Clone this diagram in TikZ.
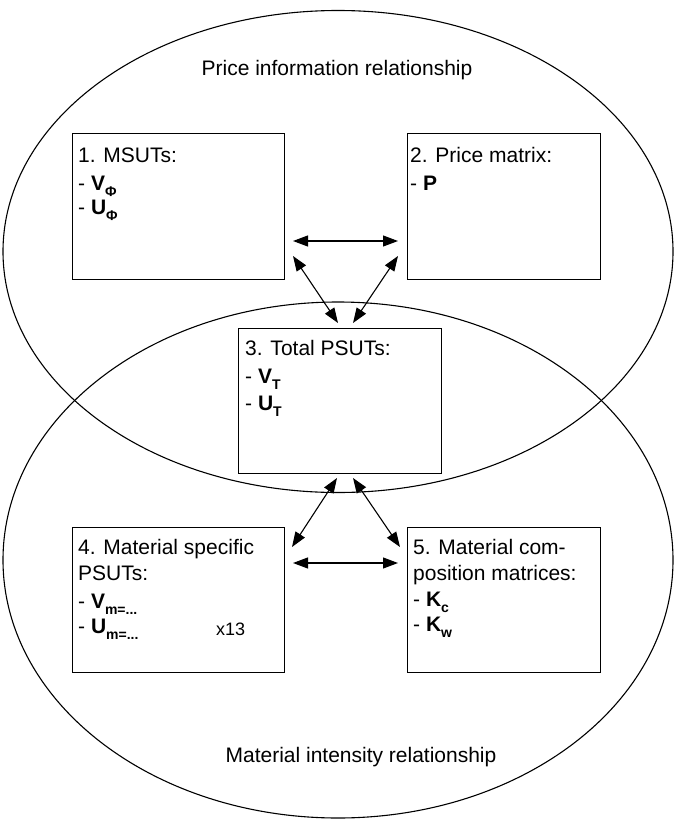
\documentclass[tikz,border=0pt]{standalone}
\usepackage{fontspec}
\setmainfont{Liberation Sans}
\usetikzlibrary{arrows.meta,shapes.geometric}
\newcommand\lowidx[1]{\raisebox{-6pt}{\fontsize{14}{14}\selectfont\bfseries #1}}
\begin{document}
\begin{tikzpicture}[x=1pt,y=-1pt,
  ring/.style={draw, ellipse, line width=1.1pt, inner sep=0pt},
  box/.style={draw, line width=1pt, anchor=north west, inner sep=0pt},
  txt/.style={anchor=base west, inner sep=0pt, font=\fontsize{21}{25}\selectfont},
  lbl/.style={inner sep=0pt, font=\fontsize{21}{25}\selectfont},
  dbl/.style={line width=1.1pt, {Triangle[length=15pt,width=11pt]}-{Triangle[length=15pt,width=11pt]}}]
\useasboundingbox (0,0) rectangle (675,819);

% the two overlapping relationship ellipses
\node[ring, minimum width=670pt, minimum height=482pt] (price) at (338,251.5) {};
\node[ring, minimum width=670pt, minimum height=516pt] (material) at (338,560) {};
\node[lbl] (pricelbl) at (337,70) {Price information relationship};
\node[lbl] (matlbl) at (361,757) {Material intensity relationship};

% boxes
\node[box, minimum width=212pt, minimum height=146pt] (msut) at (72,133) {};
\node[box, minimum width=193pt, minimum height=146pt] (pmat) at (407,133) {};
\node[box, minimum width=203pt, minimum height=145pt] (tpsut) at (238,328) {};
\node[box, minimum width=212pt, minimum height=145pt] (mpsut) at (72,527) {};
\node[box, minimum width=193pt, minimum height=145pt] (kmat) at (407,527) {};

% box contents
\node[txt] (t1a) at (78,162) {1. MSUTs:};
\node[txt] (t1b) at (78,190) {- \textbf{V}\lowidx{Φ}};
\node[txt] (t1c) at (78,214) {- \textbf{U}\lowidx{Φ}};

\node[txt] (t2a) at (410,162) {2. Price matrix:};
\node[txt] (t2b) at (410,190) {- \textbf{P}};

\node[txt] (t3a) at (245,355) {3. Total PSUTs:};
\node[txt] (t3b) at (245,383) {- \textbf{V}\lowidx{T}};
\node[txt] (t3c) at (245,410) {- \textbf{U}\lowidx{T}};

\node[txt] (t4a) at (78,554) {4. Material specific};
\node[txt] (t4b) at (78,580) {PSUTs:};
\node[txt] (t4c) at (78,608) {- \textbf{V}\lowidx{m=...}};
\node[txt] (t4d) at (78,633) {- \textbf{U}\lowidx{m=...}};
\node[txt, font=\fontsize{18}{22}\selectfont] (t4e) at (216,635) {x13};

\node[txt] (t5a) at (413,554) {5. Material com-};
\node[txt] (t5b) at (413,580) {position matrices:};
\node[txt] (t5c) at (413,606) {- \textbf{K}\lowidx{c}};
\node[txt] (t5d) at (413,631) {- \textbf{K}\lowidx{w}};

% arrow end points
\coordinate (h1l) at (293,241);
\coordinate (h1r) at (398,241);
\coordinate (d1a) at (293,256);
\coordinate (d1b) at (338,323);
\coordinate (d2a) at (398,256);
\coordinate (d2b) at (353,323);
\coordinate (d3a) at (337,478);
\coordinate (d3b) at (292,547);
\coordinate (d4a) at (353,478);
\coordinate (d4b) at (400,547);
\coordinate (h2l) at (293,563);
\coordinate (h2r) at (398,563);

\draw[dbl] (h1l) -- (h1r);
\draw[dbl] (d1a) -- (d1b);
\draw[dbl] (d2a) -- (d2b);
\draw[dbl] (d3a) -- (d3b);
\draw[dbl] (d4a) -- (d4b);
\draw[dbl] (h2l) -- (h2r);
\end{tikzpicture}
\end{document}
